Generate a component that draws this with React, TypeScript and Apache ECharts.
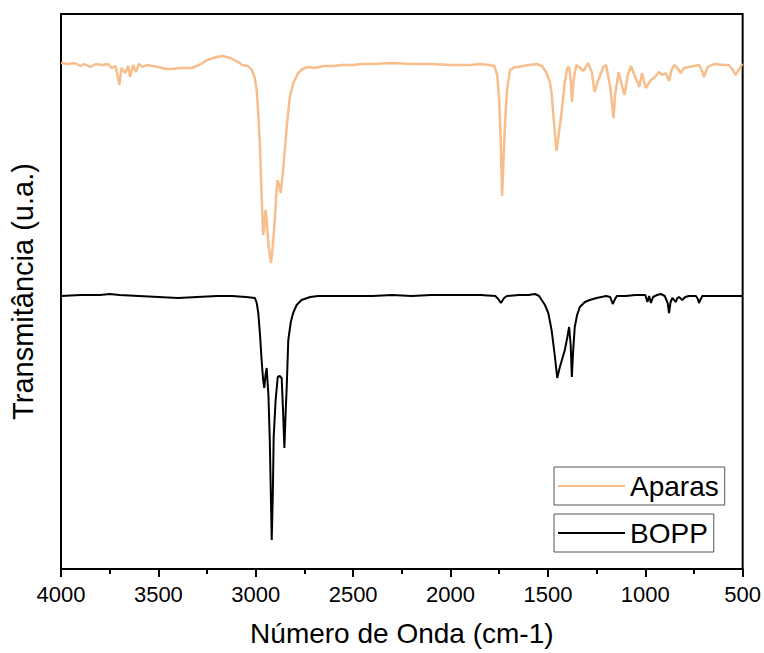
import React, { useEffect, useRef } from "react";
import * as echarts from "echarts";

const xTicks = [4000, 3500, 3000, 2500, 2000, 1500, 1000, 500];

const aparasWave = [
  4000, 3960, 3930, 3900, 3880, 3850, 3820, 3790, 3760, 3740, 3720, 3700, 3690, 3670, 3655, 3645, 3630, 3615, 3600,
  3580, 3560, 3530, 3500, 3460, 3430, 3380, 3330, 3290, 3250, 3200, 3170, 3130, 3090, 3070, 3040, 3020, 3005, 2995,
  2985, 2978, 2970, 2962, 2955, 2950, 2944, 2935, 2922, 2912, 2902, 2895, 2888, 2880, 2872, 2862, 2852, 2840, 2825,
  2805, 2782, 2760, 2731, 2700, 2650, 2600, 2561, 2500, 2459, 2400, 2300, 2200, 2100, 2000, 1950, 1900, 1850, 1800,
  1775, 1760, 1750, 1742, 1735, 1728, 1720, 1710, 1694, 1670, 1653, 1600, 1558, 1530, 1507, 1490, 1481, 1470, 1456,
  1445, 1430, 1415, 1401, 1391, 1383, 1376, 1368, 1354, 1340, 1317, 1294, 1275, 1260, 1245, 1235, 1215, 1201, 1180,
  1170, 1163, 1155, 1137, 1120, 1107, 1090, 1073, 1052, 1040, 1031, 1017, 1005, 997, 985, 971, 950, 929, 912, 895,
  878, 865, 852, 835, 818, 800, 776, 750, 724, 710, 699, 680, 660, 639, 600, 571, 550, 537, 520, 506, 500,
];
const aparasT = [
  506, 505, 506, 503, 505, 502, 505, 504, 505, 501, 503, 484, 501, 496, 503, 492, 504, 497, 505,
  502, 504, 503, 502, 500, 500, 501, 501, 504, 509, 512, 513, 511, 507, 504, 503, 499, 491, 479,
  449, 419, 374, 334, 344, 359, 349, 324, 306, 324, 349, 374, 389, 384, 376, 394, 416, 444, 472,
  487, 496, 500, 502, 501, 503, 503, 504, 504, 505, 505, 506, 505, 505, 504, 504, 504, 505, 504,
  503, 494, 469, 429, 373, 409, 446, 479, 499, 502, 502, 504, 505, 503, 496, 487, 476, 449, 418,
  434, 456, 484, 501, 502, 489, 467, 489, 504, 502, 498, 506, 497, 477, 487, 492, 502, 504, 482,
  464, 451, 474, 497, 484, 474, 494, 503, 492, 487, 482, 496, 487, 481, 485, 489, 492, 497, 494, 496,
  488, 499, 504, 501, 496, 501, 502, 503, 504, 499, 492, 502, 504, 505, 504, 504, 499, 494, 499, 504, 505,
];

const boppWave = [
  4000, 3900, 3800, 3750, 3700, 3600, 3500, 3400, 3300, 3200, 3122, 3050, 3004, 2995, 2987, 2978, 2970, 2962, 2956,
  2950, 2944, 2935, 2928, 2918, 2912, 2908, 2898, 2887, 2877, 2867, 2860, 2853, 2846, 2841, 2833, 2820, 2808, 2790,
  2765, 2720, 2680, 2600, 2500, 2400, 2300, 2200, 2100, 2000, 1900, 1847, 1770, 1755, 1741, 1725, 1710, 1650, 1600,
  1566, 1545, 1532, 1515, 1498, 1481, 1465, 1452, 1440, 1425, 1413, 1400, 1391, 1383, 1377, 1370, 1362, 1350, 1336,
  1310, 1285, 1250, 1201, 1180, 1167, 1155, 1146, 1100, 1050, 1000, 989, 980, 971, 960, 940, 920, 900, 885, 878, 870,
  861, 852, 844, 835, 827, 810, 795, 776, 740, 730, 724, 715, 707, 650, 600, 500,
];
const boppT = [
  273, 274, 274, 275, 274, 273, 272, 271, 272, 273, 273, 272, 271, 266, 256, 234, 209, 189, 181,
  194, 201, 174, 129, 29, 79, 132, 169, 192, 193, 191, 159, 121, 159, 182, 229, 247, 256, 264,
  269, 272, 273, 273, 273, 273, 274, 273, 274, 274, 274, 274, 273, 270, 266, 271, 273, 274, 274,
  275, 273, 269, 264, 256, 239, 214, 191, 201, 211, 219, 232, 242, 224, 192, 219, 242, 254, 262,
  267, 269, 271, 273, 272, 265, 270, 273, 273, 274, 274, 267, 273, 266, 272, 274, 275, 273, 266, 256, 267,
  271, 269, 267, 271, 272, 269, 272, 273, 273, 270, 266, 270, 273, 273, 273, 273,
];

const FONT = "'Liberation Sans', Arial, sans-serif";

export default function App() {
  const ref = useRef<HTMLDivElement>(null);
  useEffect(() => {
    if (!ref.current) return;
    const chart = echarts.init(ref.current, undefined, { renderer: "svg" });
    const aparas = aparasWave.map((w, i) => [w, aparasT[i]]);
    const bopp = boppWave.map((w, i) => [w, boppT[i]]);
    const legendBase = {
      left: 554,
      orient: "vertical" as const,
      borderColor: "#555",
      borderWidth: 1,
      padding: [5, 6, 5, 4],
      icon: "rect",
      itemWidth: 67,
      itemHeight: 2,
      textStyle: { fontSize: 28, fontFamily: FONT, color: "#000" },
    };
    chart.setOption({
      animation: false,
      backgroundColor: "#fff",
      grid: {
        left: 58,
        right: 20,
        top: 14,
        bottom: 84,
        show: true,
        borderColor: "#000",
        borderWidth: 2,
        containLabel: false,
      },
      legend: [
        { ...legendBase, top: 467, data: ["Aparas"] },
        { ...legendBase, top: 514, data: ["BOPP"] },
      ],
      xAxis: {
        type: "value",
        min: 500,
        max: 4000,
        interval: 500,
        inverse: true,
        name: "Número de Onda (cm-1)",
        nameLocation: "middle",
        nameGap: 50,
        nameTextStyle: { fontSize: 28, fontFamily: FONT, color: "#000" },
        axisLine: { show: true, lineStyle: { color: "#000", width: 2 } },
        axisTick: { show: true, length: 8, lineStyle: { color: "#000", width: 2 } },
        minorTick: { show: true, splitNumber: 2, length: 5, lineStyle: { color: "#000", width: 2 } },
        splitLine: { show: false },
        axisLabel: {
          fontSize: 22,
          fontFamily: FONT,
          color: "#000",
          margin: 14,
          formatter: (v: number) => (xTicks.includes(v) ? String(v) : ""),
        },
      },
      yAxis: {
        type: "value",
        min: 0,
        max: 555,
        name: "Transmitância (u.a.)",
        nameLocation: "middle",
        nameGap: 24,
        nameTextStyle: { fontSize: 29, fontFamily: FONT, color: "#000" },
        axisLine: { show: true, lineStyle: { color: "#000", width: 2 } },
        axisTick: { show: false },
        axisLabel: { show: false },
        splitLine: { show: false },
      },
      series: [
        {
          name: "Aparas",
          type: "line",
          data: aparas,
          symbol: "none",
          showSymbol: false,
          lineStyle: { color: "#F7BE8C", width: 2.5 },
          itemStyle: { color: "#F7BE8C" },
        },
        {
          name: "BOPP",
          type: "line",
          data: bopp,
          symbol: "none",
          showSymbol: false,
          lineStyle: { color: "#000", width: 2 },
          itemStyle: { color: "#000" },
        },
      ],
    });
    return () => chart.dispose();
  }, []);
  return (
    <div
      ref={ref}
      style={{ position: "fixed", left: 0, top: 0, width: 764, height: 653, background: "#fff" }}
    />
  );
}
